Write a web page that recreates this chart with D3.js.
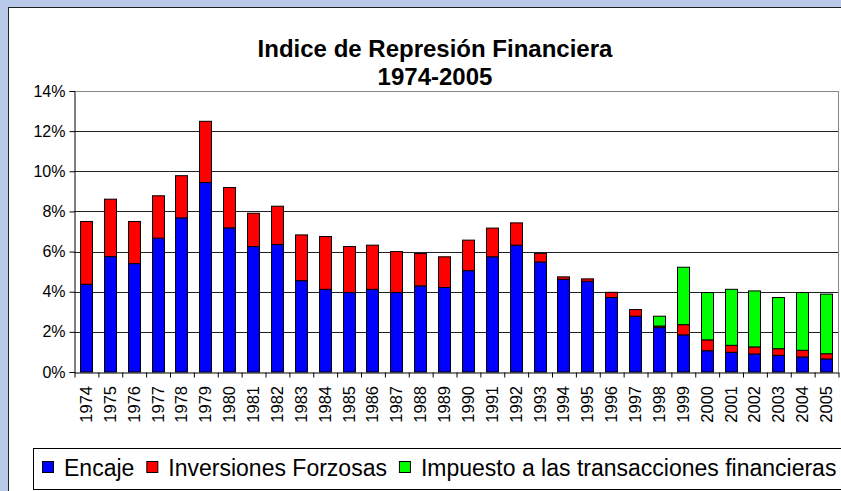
<!DOCTYPE html>
<html lang="es">
<head>
<meta charset="UTF-8">
<title>Indice de Represión Financiera</title>
<style>
  body { margin: 0; background: #b9c9e9; }
  svg { display: block; font-family: "Liberation Sans", Arial, sans-serif; }
</style>
</head>
<body>
<script src="https://cdn.jsdelivr.net/npm/d3@7"></script>
<script>
  const years = ['1974', '1975', '1976', '1977', '1978', '1979', '1980', '1981',
    '1982', '1983', '1984', '1985', '1986', '1987', '1988', '1989', '1990', '1991',
    '1992', '1993', '1994', '1995', '1996', '1997', '1998', '1999', '2000', '2001',
    '2002', '2003', '2004', '2005'];

  // valores en %
  const encaje = [4.37, 5.75, 5.40, 6.67, 7.68, 9.44, 7.18, 6.25, 6.35, 4.55, 4.12, 3.96,
    4.12, 3.96, 4.29, 4.21, 5.05, 5.74, 6.32, 5.48, 4.62, 4.52, 3.71, 2.78, 2.21, 1.85,
    1.06, 0.98, 0.90, 0.83, 0.75, 0.65];
  const inversiones = [3.13, 2.86, 2.10, 2.11, 2.10, 3.05, 2.01, 1.66, 1.91, 2.28, 2.63, 2.29,
    2.20, 2.04, 1.61, 1.53, 1.52, 1.43, 1.11, 0.43, 0.12, 0.12, 0.26, 0.33, 0.08, 0.51,
    0.54, 0.35, 0.35, 0.33, 0.33, 0.26];
  const impuesto = [0, 0, 0, 0, 0, 0, 0, 0, 0, 0, 0, 0, 0, 0, 0, 0, 0, 0, 0, 0, 0, 0, 0, 0,
    0.49, 2.86, 2.36, 2.79, 2.79, 2.55, 2.88, 2.97];

  const seriesNames = ['Encaje', 'Inversiones Forzosas', 'Impuesto a las transacciones financieras'];
  const colors = ['#0000ff', '#ff0000', '#00ff00'];
  const yTicks = [0, 0.02, 0.04, 0.06, 0.08, 0.10, 0.12, 0.14];

  const w = 841;
  const h = 491;
  const plotL = 74, plotR = 838, plotT = 91, plotB = 372;

  const svg = d3.select('body').append('svg')
    .attr('width', w)
    .attr('height', h);

  // fondo azul y area del grafico
  svg.append('rect').attr('width', w).attr('height', h).attr('fill', '#b9c9e9');
  svg.append('rect')
    .attr('x', 8.5).attr('y', 7.5)
    .attr('width', w + 20).attr('height', h + 20)
    .attr('fill', '#fff').attr('stroke', '#222');

  const rows = years.map((yr, i) => ({
    year: yr,
    s0: encaje[i] / 100,
    s1: inversiones[i] / 100,
    s2: impuesto[i] / 100
  }));
  const stacked = d3.stack().keys(['s0', 's1', 's2'])(rows);

  const x = d3.scaleBand()
    .domain(years)
    .range([plotL, plotR])
    .paddingInner(0.5)
    .paddingOuter(0.25);

  const y = d3.scaleLinear()
    .domain([0, 0.14])
    .range([plotB, plotT]);

  // rejilla
  svg.append('g')
    .selectAll('line')
    .data(yTicks.slice(1))
    .join('line')
    .attr('x1', plotL).attr('x2', plotR)
    .attr('y1', d => Math.round(y(d)) + 0.5)
    .attr('y2', d => Math.round(y(d)) + 0.5)
    .attr('stroke', d => d === 0.14 ? '#888' : '#222');

  // borde derecho
  svg.append('line')
    .attr('x1', plotR + 0.5).attr('x2', plotR + 0.5)
    .attr('y1', plotT).attr('y2', plotB)
    .attr('stroke', '#888');

  // barras apiladas
  svg.append('g')
    .selectAll('g')
    .data(stacked)
    .join('g')
    .attr('fill', (d, i) => colors[i])
    .selectAll('rect')
    .data(d => d.filter(p => p[1] - p[0] > 0))
    .join('rect')
    .attr('x', d => Math.round(x(d.data.year)) + 0.5)
    .attr('y', d => y(d[1]))
    .attr('width', Math.round(x.bandwidth()))
    .attr('height', d => y(d[0]) - y(d[1]))
    .attr('stroke', '#000')
    .attr('stroke-width', 1);

  // eje Y
  const yAxis = svg.append('g')
    .attr('transform', `translate(${plotL + 0.5},0)`)
    .call(d3.axisLeft(y).tickValues(yTicks).tickFormat(d3.format('.0%')).tickSize(5).tickPadding(4));
  yAxis.select('.domain').attr('stroke', '#000');
  yAxis.selectAll('.tick line').attr('stroke', '#000');
  yAxis.selectAll('text')
    .attr('font-size', 16)
    .attr('font-family', '"Liberation Sans", Arial, sans-serif')
    .attr('fill', '#000');

  // eje X: marcas entre categorias
  const xEdges = d3.scaleLinear().domain([0, years.length]).range([plotL, plotR]);
  const xTickAxis = svg.append('g')
    .attr('transform', `translate(0.5,${plotB + 0.5})`)
    .call(d3.axisBottom(xEdges).ticks(years.length).tickFormat('').tickSize(5).tickSizeOuter(0));
  xTickAxis.select('.domain').attr('stroke', '#000');
  xTickAxis.selectAll('.tick line').attr('stroke', '#000');

  // etiquetas de años
  svg.append('g')
    .selectAll('text')
    .data(years)
    .join('text')
    .attr('transform', d => `translate(${x(d) + x.bandwidth() / 2 + 6},${plotB + 14}) rotate(-90)`)
    .attr('text-anchor', 'end')
    .attr('font-size', 16.5)
    .attr('fill', '#000')
    .text(d => d);

  // titulo
  const title = svg.append('text')
    .attr('x', 435)
    .attr('text-anchor', 'middle')
    .attr('font-size', 24)
    .attr('font-weight', 'bold')
    .attr('fill', '#000');
  title.append('tspan').attr('x', 435).attr('y', 57).text('Indice de Represión Financiera');
  title.append('tspan').attr('x', 435).attr('y', 85).text('1974-2005');

  // leyenda
  svg.append('rect')
    .attr('x', 33.5).attr('y', 448.5)
    .attr('width', 840).attr('height', 41)
    .attr('fill', '#fff').attr('stroke', '#000');

  const legend = svg.append('g');
  let lx = 42;
  seriesNames.forEach((name, i) => {
    legend.append('rect')
      .attr('x', lx + 0.5).attr('y', 461.5)
      .attr('width', 11).attr('height', 11)
      .attr('fill', colors[i]).attr('stroke', '#000');
    const t = legend.append('text')
      .attr('x', lx + 22)
      .attr('y', 476)
      .attr('font-size', 23)
      .attr('fill', '#000')
      .text(name);
    lx += 22 + t.node().getComputedTextLength() + 12;
  });
</script>
</body>
</html>
